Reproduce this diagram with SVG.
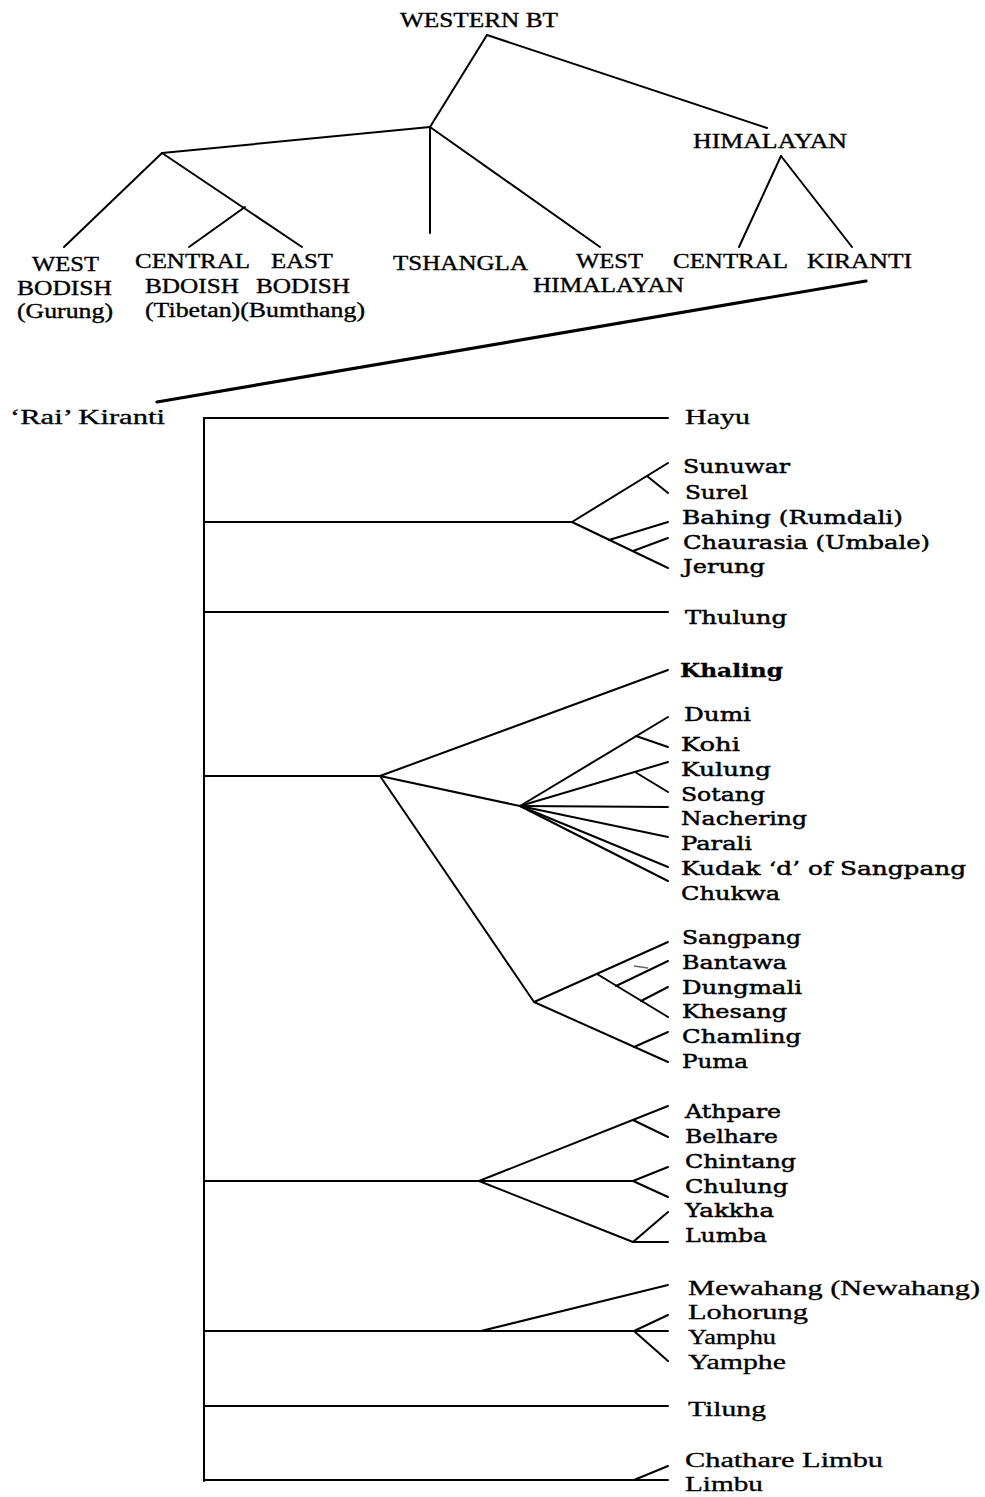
<svg xmlns="http://www.w3.org/2000/svg" width="985" height="1497" viewBox="0 0 985 1497">
<style>
.t{font-family:"Liberation Serif","Times New Roman",serif;font-size:20.5px;fill:#000;stroke:#000;stroke-width:0.35}
.tl{font-family:"Liberation Serif","Times New Roman",serif;font-size:20.5px;fill:#000;stroke:#000;stroke-width:0.3}
.c{font-family:"DejaVu Serif","Liberation Serif",serif;font-size:18px;fill:#000;stroke:#000;stroke-width:0.45}
.b{font-weight:bold;stroke-width:0.3}
.e{stroke:#000;stroke-width:2;fill:none;stroke-linecap:round}
.k{stroke:#000;stroke-width:3.2;fill:none;stroke-linecap:round}
</style>
<rect width="985" height="1497" fill="#fff"/>
<g id="connectors">
<line class="e" x1="487" y1="35" x2="767" y2="128"/>
<line class="e" x1="487" y1="35" x2="430" y2="127"/>
<line class="e" x1="430" y1="127" x2="162" y2="153"/>
<line class="e" x1="430" y1="127" x2="430" y2="233"/>
<line class="e" x1="430" y1="127" x2="600" y2="247"/>
<line class="e" x1="162" y1="153" x2="64" y2="247"/>
<line class="e" x1="162" y1="153" x2="302" y2="247"/>
<line class="e" x1="245" y1="207" x2="189" y2="247"/>
<line class="e" x1="781" y1="156" x2="739" y2="247"/>
<line class="e" x1="781" y1="156" x2="852" y2="247"/>
<line class="k" x1="866" y1="281" x2="157" y2="402"/>
<line class="e" x1="204" y1="418" x2="204" y2="1481"/>
<line class="e" x1="204" y1="418" x2="668" y2="418"/>
<line class="e" x1="204" y1="522" x2="572" y2="522"/>
<line class="e" x1="572" y1="522" x2="668" y2="463"/>
<line class="e" x1="647" y1="476" x2="668" y2="493"/>
<line class="e" x1="572" y1="522" x2="668" y2="568"/>
<line class="e" x1="609" y1="540" x2="668" y2="522"/>
<line class="e" x1="633" y1="551" x2="668" y2="538"/>
<line class="e" x1="204" y1="612" x2="668" y2="612"/>
<line class="e" x1="204" y1="776" x2="380" y2="776"/>
<line class="e" x1="380" y1="776" x2="668" y2="670"/>
<line class="e" x1="380" y1="776" x2="520" y2="806"/>
<line class="e" x1="380" y1="776" x2="534" y2="1002"/>
<line class="e" x1="520" y1="806" x2="668" y2="717"/>
<line class="e" x1="636" y1="736" x2="668" y2="747"/>
<line class="e" x1="520" y1="806" x2="668" y2="762"/>
<line class="e" x1="635" y1="772" x2="668" y2="792"/>
<line class="e" x1="520" y1="806" x2="668" y2="807"/>
<line class="e" x1="520" y1="806" x2="668" y2="837"/>
<line class="e" x1="520" y1="806" x2="668" y2="867"/>
<line class="e" x1="520" y1="806" x2="668" y2="881"/>
<line class="e" x1="534" y1="1002" x2="668" y2="942"/>
<line class="e" x1="597" y1="974" x2="668" y2="1017"/>
<line class="e" x1="616" y1="986" x2="668" y2="961"/>
<line class="e" x1="641" y1="1001" x2="668" y2="987"/>
<line class="e" x1="534" y1="1002" x2="668" y2="1062"/>
<line class="e" x1="634" y1="1047" x2="668" y2="1032"/>
<line x1="634" y1="966" x2="648" y2="968" stroke="#666" stroke-width="1.5"/>
<line class="e" x1="204" y1="1181" x2="633" y2="1181"/>
<line class="e" x1="479" y1="1181" x2="668" y2="1106"/>
<line class="e" x1="633" y1="1120" x2="668" y2="1137"/>
<line class="e" x1="633" y1="1181" x2="668" y2="1167"/>
<line class="e" x1="633" y1="1181" x2="668" y2="1197"/>
<line class="e" x1="479" y1="1181" x2="633" y2="1242"/>
<line class="e" x1="633" y1="1242" x2="668" y2="1242"/>
<line class="e" x1="633" y1="1242" x2="668" y2="1212"/>
<line class="e" x1="204" y1="1331" x2="668" y2="1331"/>
<line class="e" x1="481" y1="1331" x2="668" y2="1285"/>
<line class="e" x1="634" y1="1331" x2="668" y2="1315"/>
<line class="e" x1="634" y1="1331" x2="668" y2="1361"/>
<line class="e" x1="204" y1="1406" x2="668" y2="1406"/>
<line class="e" x1="204" y1="1480" x2="668" y2="1480"/>
<line class="e" x1="634" y1="1480" x2="668" y2="1466"/>
</g>
<g id="n-western-bt"><text class="t" x="400" y="27" textLength="158" lengthAdjust="spacingAndGlyphs">WESTERN BT</text></g>
<g id="n-himalayan"><text class="t" x="693" y="148" textLength="154" lengthAdjust="spacingAndGlyphs">HIMALAYAN</text></g>
<g id="n-west-bodish">
<text class="t" x="32" y="271" textLength="67" lengthAdjust="spacingAndGlyphs">WEST</text>
<text class="t" x="17" y="295" textLength="95" lengthAdjust="spacingAndGlyphs">BODISH</text>
<text class="t" x="17" y="318" textLength="96" lengthAdjust="spacingAndGlyphs">(Gurung)</text>
</g>
<g id="n-central-bodish">
<text class="t" x="135" y="268" textLength="115" lengthAdjust="spacingAndGlyphs">CENTRAL</text>
<text class="t" x="145" y="293" textLength="94" lengthAdjust="spacingAndGlyphs">BDOISH</text>
</g>
<g id="n-east-bodish">
<text class="t" x="271" y="268" textLength="62" lengthAdjust="spacingAndGlyphs">EAST</text>
<text class="t" x="256" y="293" textLength="94" lengthAdjust="spacingAndGlyphs">BODISH</text>
</g>
<g id="n-tibetan-bumthang"><text class="t" x="145" y="317" textLength="220" lengthAdjust="spacingAndGlyphs">(Tibetan)(Bumthang)</text></g>
<g id="n-tshangla"><text class="t" x="393" y="270" textLength="135" lengthAdjust="spacingAndGlyphs">TSHANGLA</text></g>
<g id="n-west-himalayan">
<text class="t" x="576" y="268" textLength="67" lengthAdjust="spacingAndGlyphs">WEST</text>
<text class="t" x="533" y="292" textLength="151" lengthAdjust="spacingAndGlyphs">HIMALAYAN</text>
</g>
<g id="n-central"><text class="t" x="673" y="268" textLength="115" lengthAdjust="spacingAndGlyphs">CENTRAL</text></g>
<g id="n-kiranti"><text class="t" x="807" y="268" textLength="105" lengthAdjust="spacingAndGlyphs">KIRANTI</text></g>
<g id="n-rai-kiranti"><text class="tl" x="10" y="424" textLength="155" lengthAdjust="spacingAndGlyphs">‘Rai’ Kiranti</text></g>
<g id="n-hayu"><text class="tl" x="685" y="424" textLength="65" lengthAdjust="spacingAndGlyphs">Hayu</text></g>
<g id="n-sunuwar"><text class="c" x="683" y="473" textLength="107" lengthAdjust="spacingAndGlyphs">Sunuwar</text></g>
<g id="n-surel"><text class="c" x="685" y="499" textLength="63" lengthAdjust="spacingAndGlyphs">Surel</text></g>
<g id="n-bahing"><text class="c" x="682" y="524" textLength="221" lengthAdjust="spacingAndGlyphs">Bahing (Rumdali)</text></g>
<g id="n-chaurasia"><text class="c" x="683" y="549" textLength="247" lengthAdjust="spacingAndGlyphs">Chaurasia (Umbale)</text></g>
<g id="n-jerung"><text class="c" x="683" y="573" textLength="82" lengthAdjust="spacingAndGlyphs">Jerung</text></g>
<g id="n-thulung"><text class="c" x="685" y="624" textLength="102" lengthAdjust="spacingAndGlyphs">Thulung</text></g>
<g id="n-khaling"><text class="c b" x="680" y="677" textLength="103" lengthAdjust="spacingAndGlyphs">Khaling</text></g>
<g id="n-dumi"><text class="c" x="684" y="721" textLength="67" lengthAdjust="spacingAndGlyphs">Dumi</text></g>
<g id="n-kohi"><text class="c" x="681" y="751" textLength="59" lengthAdjust="spacingAndGlyphs">Kohi</text></g>
<g id="n-kulung"><text class="c" x="681" y="776" textLength="90" lengthAdjust="spacingAndGlyphs">Kulung</text></g>
<g id="n-sotang"><text class="c" x="681" y="801" textLength="84" lengthAdjust="spacingAndGlyphs">Sotang</text></g>
<g id="n-nachering"><text class="c" x="681" y="825" textLength="126" lengthAdjust="spacingAndGlyphs">Nachering</text></g>
<g id="n-parali"><text class="c" x="681" y="850" textLength="71" lengthAdjust="spacingAndGlyphs">Parali</text></g>
<g id="n-kudak"><text class="c" x="681" y="875" textLength="285" lengthAdjust="spacingAndGlyphs">Kudak ‘d’ of Sangpang</text></g>
<g id="n-chukwa"><text class="c" x="681" y="900" textLength="99" lengthAdjust="spacingAndGlyphs">Chukwa</text></g>
<g id="n-sangpang"><text class="c" x="682" y="944" textLength="119" lengthAdjust="spacingAndGlyphs">Sangpang</text></g>
<g id="n-bantawa"><text class="c" x="682" y="969" textLength="105" lengthAdjust="spacingAndGlyphs">Bantawa</text></g>
<g id="n-dungmali"><text class="c" x="682" y="994" textLength="120" lengthAdjust="spacingAndGlyphs">Dungmali</text></g>
<g id="n-khesang"><text class="c" x="682" y="1018" textLength="105" lengthAdjust="spacingAndGlyphs">Khesang</text></g>
<g id="n-chamling"><text class="c" x="682" y="1043" textLength="119" lengthAdjust="spacingAndGlyphs">Chamling</text></g>
<g id="n-puma"><text class="c" x="682" y="1068" textLength="66" lengthAdjust="spacingAndGlyphs">Puma</text></g>
<g id="n-athpare"><text class="c" x="685" y="1118" textLength="96" lengthAdjust="spacingAndGlyphs">Athpare</text></g>
<g id="n-belhare"><text class="c" x="685" y="1143" textLength="93" lengthAdjust="spacingAndGlyphs">Belhare</text></g>
<g id="n-chintang"><text class="c" x="685" y="1168" textLength="111" lengthAdjust="spacingAndGlyphs">Chintang</text></g>
<g id="n-chulung"><text class="c" x="685" y="1193" textLength="103" lengthAdjust="spacingAndGlyphs">Chulung</text></g>
<g id="n-yakkha"><text class="c" x="685" y="1217" textLength="89" lengthAdjust="spacingAndGlyphs">Yakkha</text></g>
<g id="n-lumba"><text class="c" x="685" y="1242" textLength="82" lengthAdjust="spacingAndGlyphs">Lumba</text></g>
<g id="n-mewahang"><text class="tl" x="688" y="1295" textLength="292" lengthAdjust="spacingAndGlyphs">Mewahang (Newahang)</text></g>
<g id="n-lohorung"><text class="tl" x="688" y="1319" textLength="120" lengthAdjust="spacingAndGlyphs">Lohorung</text></g>
<g id="n-yamphu"><text class="tl" x="688" y="1344" textLength="88" lengthAdjust="spacingAndGlyphs">Yamphu</text></g>
<g id="n-yamphe"><text class="tl" x="688" y="1369" textLength="98" lengthAdjust="spacingAndGlyphs">Yamphe</text></g>
<g id="n-tilung"><text class="tl" x="688" y="1416" textLength="78" lengthAdjust="spacingAndGlyphs">Tilung</text></g>
<g id="n-chathare-limbu"><text class="tl" x="685" y="1467" textLength="198" lengthAdjust="spacingAndGlyphs">Chathare Limbu</text></g>
<g id="n-limbu"><text class="tl" x="685" y="1491" textLength="78" lengthAdjust="spacingAndGlyphs">Limbu</text></g>
</svg>
